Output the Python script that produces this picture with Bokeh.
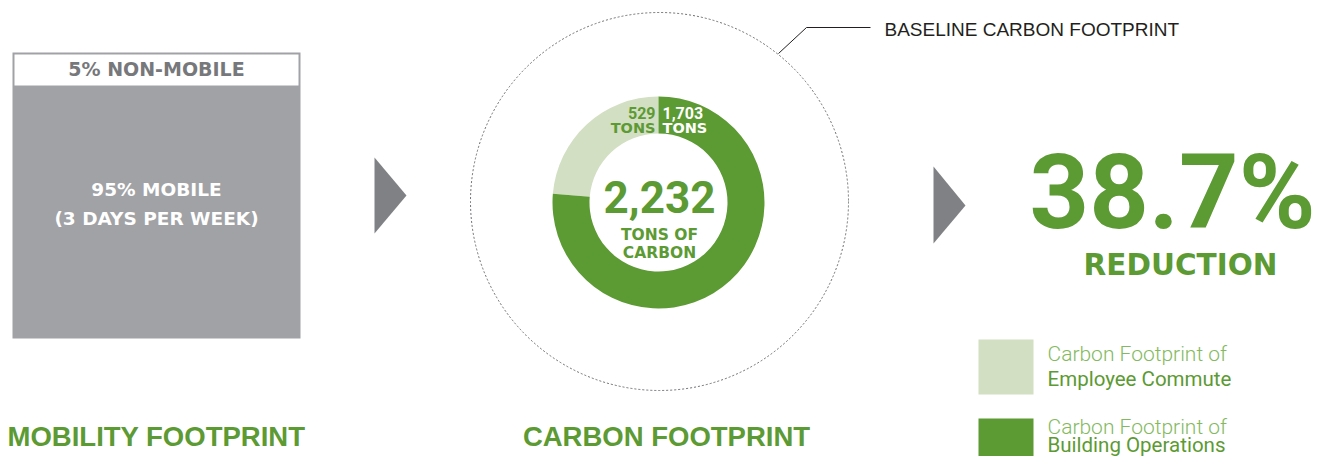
import math
from bokeh.plotting import figure
from bokeh.models import Range1d
from bokeh.core.properties import value
from bokeh.embed import file_html
from bokeh.resources import INLINE

# ---------------- data ----------------
mobility_shares = [5, 95]
mobility_labels = ["5% NON-MOBILE", "95% MOBILE", "(3 DAYS PER WEEK)"]
carbon_categories = ["Employee Commute", "Building Operations"]
carbon_tons = [529, 1703]
carbon_colors = ["#d2dfc2", "#5c9a33"]
reduction_pct = 38.7
section_titles = ["MOBILITY FOOTPRINT", "CARBON FOOTPRINT"]

GREEN = "#5c9a33"
LIGHT_GREEN_TEXT = "#84ba5f"
GRAY_BOX = "#a1a2a5"
GRAY_ARROW = "#808184"

W, H = 1319, 456

p = figure(width=W, height=H, output_backend="svg", toolbar_location=None,
           x_range=Range1d(0, W), y_range=Range1d(-H, 0), min_border=0)
p.axis.visible = False
p.xgrid.visible = False
p.ygrid.visible = False
p.outline_line_color = None
p.background_fill_color = "white"
p.border_fill_color = "white"


def T(x, y, txt, size, color, font="Liberation Sans", style="bold", align="center"):
    # y is the wanted baseline (in picture pixels); compensate renderer offset
    k = 0.40 if font.startswith("DejaVu") else 0.375
    p.text(x=[x], y=[-(y - k * size)], text=[txt], text_font=value(font),
           text_font_size=value(f"{size}px"), text_font_style=style,
           text_color=color, text_align=align, text_baseline="alphabetic")


# ---------------- mobility box ----------------
p.quad(left=[12], right=[300], top=[-52], bottom=[-338],
       fill_color=GRAY_BOX, line_color=None)
p.quad(left=[14], right=[298], top=[-54], bottom=[-85],
       fill_color="white", line_color=None)
T(156, 76, mobility_labels[0], 19, "#77787b", font="DejaVu Sans")
T(156, 196, mobility_labels[1], 18.5, "white", font="DejaVu Sans")
T(156, 225, mobility_labels[2], 18.5, "white", font="DejaVu Sans")
T(156, 446, section_titles[0], 27.5, GREEN)

# ---------------- arrows ----------------
p.patch(x=[374, 406, 374], y=[-157, -195, -233], fill_color=GRAY_ARROW, line_color=None)
p.patch(x=[933, 965, 933], y=[-166, -205, -243], fill_color=GRAY_ARROW, line_color=None)

# ---------------- donut ----------------
cx, cy = 658, 202
p.circle(x=[659], y=[-201], radius=189, fill_color=None,
         line_color="#6d6e71", line_dash="2 2", line_width=1)
p.line(x=[778, 806, 870], y=[-53, -27, -27], line_color="#231f20", line_width=1)
T(884, 36, "BASELINE CARBON FOOTPRINT", 19, "#231f20", style="normal", align="left")

total = sum(carbon_tons)
starts, ends = [], []
a = math.pi / 2
for t in carbon_tons:
    starts.append(a)
    a += 2 * math.pi * t / total
    ends.append(a)
p.annular_wedge(x=[cx] * 2, y=[-cy] * 2, inner_radius=69, outer_radius=106,
                start_angle=starts, end_angle=ends, direction="anticlock",
                fill_color=carbon_colors, line_color=None)

T(655, 118, f"{carbon_tons[0]:,}", 16, GREEN, font="Roboto", align="right")
T(655, 133, "TONS", 14.5, GREEN, font="DejaVu Sans", align="right")
T(662, 118, f"{carbon_tons[1]:,}", 16, "white", font="Roboto", align="left")
T(662, 133, "TONS", 14.5, "white", font="DejaVu Sans", align="left")

T(659, 213, f"{total:,}", 44, GREEN, font="Roboto")
T(659, 241, "TONS OF", 15.5, GREEN, font="DejaVu Sans")
T(659, 259, "CARBON", 15.5, GREEN, font="DejaVu Sans")
T(666, 446, section_titles[1], 27.5, GREEN)

# ---------------- reduction ----------------
T(1172, 231, f"{reduction_pct}%", 104, GREEN, font="Roboto")
T(1180, 276, "REDUCTION", 29.5, GREEN, font="DejaVu Sans")

# ---------------- legend ----------------
leg_tops = [339, 418]
text_y = [(361, 386), (434, 452)]
for i, cat in enumerate(carbon_categories):
    p.quad(left=[978], right=[1033], top=[-leg_tops[i]], bottom=[-(leg_tops[i] + 55)],
           fill_color=carbon_colors[i], line_color=None)
    T(1047, text_y[i][0], "Carbon Footprint of", 21, LIGHT_GREEN_TEXT,
      font="Roboto Light", style="normal", align="left")
    T(1047, text_y[i][1], cat, 20.5, GREEN, font="Roboto",
      style="normal", align="left")

open("out.html", "w").write(file_html(p, INLINE))
